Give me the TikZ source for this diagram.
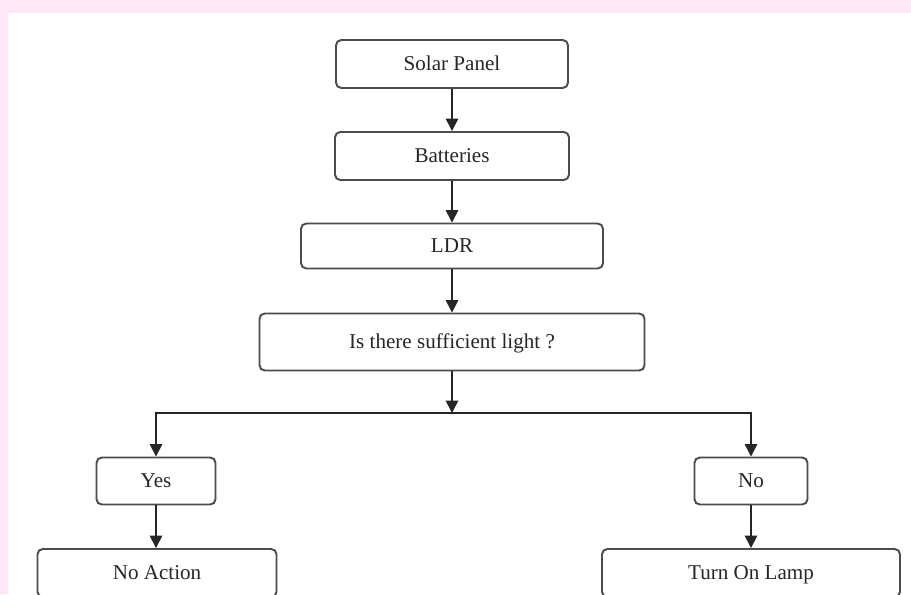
\documentclass[tikz,border=0pt]{standalone}
\usepackage{fontspec}
\setmainfont{Liberation Serif}
\usetikzlibrary{arrows.meta}

\definecolor{pinkbg}{RGB}{254,232,247}
\def\pxsize{0.02cm}

\begin{document}
\begin{tikzpicture}[x=\pxsize, y=-\pxsize, >={Triangle[length=7pt,width=7pt]}]
\tikzstyle{stage}=[rectangle, rounded corners=3pt, draw=black!70, line width=1.1pt, fill=white, text=black!85, font=\fontsize{12}{14}\selectfont, text height=10pt, text depth=2.1pt, inner sep=0pt]
\tikzstyle{flow}=[->, draw=black!85, line width=0.9pt]

% Page with the pink frame
\path[use as bounding box] (0,0) rectangle (911,594);
\clip (0,0) rectangle (911,594);
\fill[pinkbg] (0,0) rectangle (911,594);
\fill[white] (8,13) rectangle (911,594);

% Draw the main chain of boxes
\foreach \name/\y/\w/\h/\txt in {solar/64/232/48/Solar Panel, bat/156/234/48/Batteries, ldr/246/302/45/LDR, light/342/385/57/Is there sufficient light ?}
\node[stage, minimum width=\w*\pxsize, minimum height=\h*\pxsize] (\name) at (452,\y) {\txt};

% Draw the two answers and what follows them
\node[stage, minimum width=119*\pxsize, minimum height=47*\pxsize] (yes) at (156,481) {Yes};
\node[stage, minimum width=113*\pxsize, minimum height=47*\pxsize] (no) at (751,481) {No};
\node[stage, minimum width=239*\pxsize, minimum height=48*\pxsize] (noact) at (157,573) {No Action};
\node[stage, minimum width=298*\pxsize, minimum height=48*\pxsize] (lamp) at (751,573) {Turn On Lamp};

% Connect the boxes of the chain
\foreach \source/\dest in {solar/bat, bat/ldr, ldr/light}
\draw[flow] (\source) -- (\dest);

% Split into the two branches
\coordinate (split) at (452,413);
\draw[flow] (light) -- (split);
\draw[flow] (split) -| (yes);
\draw[flow] (split) -| (no);
\draw[flow] (yes) -- (yes |- noact.north);
\draw[flow] (no) -- (lamp);
\end{tikzpicture}
\end{document}
